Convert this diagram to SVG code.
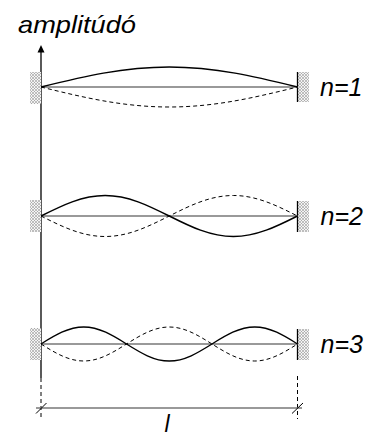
<svg xmlns="http://www.w3.org/2000/svg" width="378" height="437" viewBox="0 0 378 437">
<style>
.txt{font-family:"Liberation Sans",Arial,sans-serif;font-style:italic;fill:#000}
.base{stroke:#777;stroke-width:1.6;fill:none}
.solid{stroke:#000;stroke-width:1.4;fill:none}
.dash{stroke:#000;stroke-width:1;fill:none;stroke-dasharray:4 3}
.wall{fill:url(#hatch)}
.wline{stroke:#000;stroke-width:1.3}
</style>
<defs>
<pattern id="hatch" width="3" height="3" patternUnits="userSpaceOnUse">
<rect width="3" height="3" fill="#f4f4f4"/>
<path d="M0,3 L3,0 M0,0 L3,3" stroke="#999" stroke-width="0.6"/>
</pattern>
</defs>
<text class="txt" x="18" y="33" font-size="24" textLength="118" lengthAdjust="spacingAndGlyphs">amplitúdó</text>
<g id="axis">
<line x1="41" y1="378" x2="41" y2="50" stroke="#000" stroke-width="1.3"/>
<polygon points="41,45 37.5,52.5 44.5,52.5" fill="#000"/>
<line x1="41" y1="378" x2="41" y2="419" stroke="#000" stroke-width="1" stroke-dasharray="4 3"/>
<line x1="297.5" y1="376" x2="297.5" y2="419" stroke="#000" stroke-width="1" stroke-dasharray="4 3"/>
</g>
<g id="mode1">
<rect class="wall" x="30" y="72" width="11" height="32"/>
<rect class="wall" x="297.5" y="72" width="11.5" height="30"/>
<line class="wline" x1="297.5" y1="72" x2="297.5" y2="102"/>
<line class="base" x1="41" y1="87" x2="297.5" y2="87"/>
<path class="solid" d="M41,87 C82.83,76.75 122.84,67 169.25,67 C215.67,67 255.68,76.75 297.5,87"/>
<path class="dash" d="M41,87 C82.83,97.25 122.84,107 169.25,107 C215.67,107 255.68,97.25 297.5,87"/>
<text class="txt" x="320" y="96" font-size="25">n=1</text>
</g>
<g id="mode2">
<rect class="wall" x="30" y="200" width="11" height="32"/>
<rect class="wall" x="297.5" y="201" width="11.5" height="31"/>
<line class="wline" x1="297.5" y1="201" x2="297.5" y2="232"/>
<line class="base" x1="41" y1="216" x2="297.5" y2="216"/>
<path class="solid" d="M41,216 C61.91,205.5 81.92,195.5 105.13,195.5 C128.33,195.5 148.34,205.5 169.25,216 C190.16,226.5 210.17,236.5 233.38,236.5 C256.58,236.5 276.59,226.5 297.5,216"/>
<path class="dash" d="M41,216 C61.91,226.5 81.92,236.5 105.13,236.5 C128.33,236.5 148.34,226.5 169.25,216 C190.16,205.5 210.17,195.5 233.38,195.5 C256.58,195.5 276.59,205.5 297.5,216"/>
<text class="txt" x="320.5" y="225" font-size="25">n=2</text>
</g>
<g id="mode3">
<rect class="wall" x="30" y="328" width="11" height="32"/>
<rect class="wall" x="297.5" y="329" width="11.5" height="31"/>
<line class="wline" x1="297.5" y1="329" x2="297.5" y2="360"/>
<line class="base" x1="41" y1="344" x2="297.5" y2="344"/>
<path class="solid" d="M41,344 C54.94,335.29 68.28,327 83.75,327 C99.23,327 112.56,335.29 126.5,344 C140.44,352.71 153.78,361 169.25,361 C184.73,361 198.06,352.71 212,344 C225.94,335.29 239.28,327 254.75,327 C270.23,327 283.56,335.29 297.5,344"/>
<path class="dash" d="M41,344 C54.94,352.71 68.28,361 83.75,361 C99.23,361 112.56,352.71 126.5,344 C140.44,335.29 153.78,327 169.25,327 C184.73,327 198.06,335.29 212,344 C225.94,352.71 239.28,361 254.75,361 C270.23,361 283.56,352.71 297.5,344"/>
<text class="txt" x="320.5" y="352.5" font-size="25">n=3</text>
</g>
<g id="dimension">
<line class="base" x1="36" y1="408" x2="302" y2="408"/>
<line x1="36" y1="413.5" x2="46.5" y2="403" stroke="#000" stroke-width="1"/>
<line x1="292" y1="413.5" x2="303" y2="403" stroke="#000" stroke-width="1"/>
<text class="txt" x="164.5" y="432" font-size="23">l</text>
</g>
</svg>
